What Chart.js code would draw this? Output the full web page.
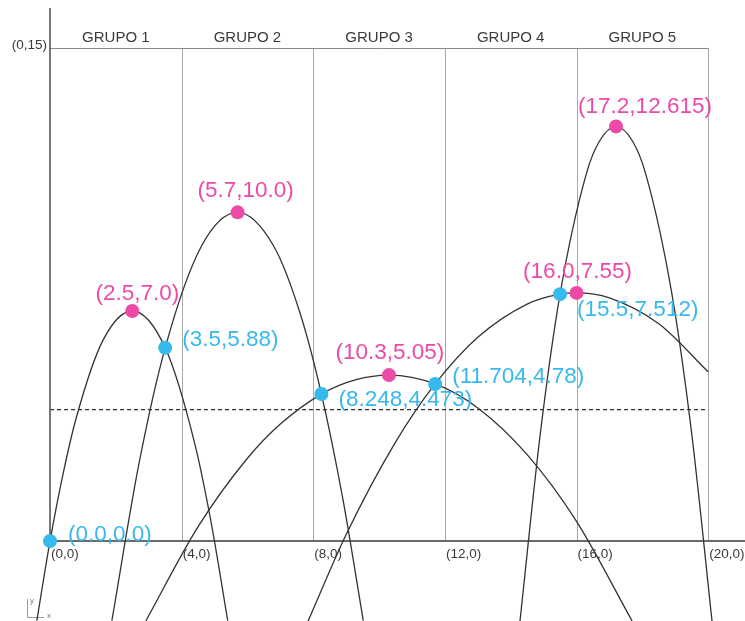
<!DOCTYPE html>
<html lang="es">
<head>
  <meta charset="UTF-8" />
  <title>Grupos</title>
  <script src="https://cdn.jsdelivr.net/npm/chart.js"></script>
  <style>
    * { margin: 0; padding: 0; box-sizing: border-box; }
    body { background: #fff; width: 745px; height: 621px; overflow: hidden; }
    #wrap { width: 745px; height: 621px; position: relative; }
  </style>
</head>
<body>
  <div id="wrap"><canvas id="groupChart"></canvas></div>

  <script>
    // frame: group headers, grid and axis ticks
    const groupLabels = ['GRUPO 1', 'GRUPO 2', 'GRUPO 3', 'GRUPO 4', 'GRUPO 5'];
    const groupCenters = [2, 6, 10, 14, 18];
    const gridXs = [4, 8, 12, 16, 20];
    const tickXs = [0, 4, 8, 12, 16, 20];
    const tickLabels = ['(0,0)', '(4,0)', '(8,0)', '(12,0)', '(16,0)', '(20,0)'];
    const topY = 15;
    const topLabel = '(0,15)';
    const refY = 4;

    // curves, points
    const arc1X = [-0.4, 0, 0.4, 0.8, 1.6, 2.5, 3.5, 4.4, 4.9, 5.4];
    const arc1Y = [-2.42, 0, 2.06, 3.76, 6.09, 7.0, 5.88, 2.96, 0.55, -2.42];
    const arc2X = [1.88, 2.7, 3.5, 4.6, 5.7, 6.8, 7.6, 8.248, 8.9, 9.52];
    const arc2Y = [-2.42, 2.34, 5.88, 8.97, 10.0, 8.97, 6.93, 4.473, 1.28, -2.42];
    const arc3X = [2.91, 4.5, 6, 7, 8.248, 9.3, 10.3, 11.704, 13, 14.5, 16, 17.69];
    const arc3Y = [-2.43, 0.44, 2.52, 3.56, 4.473, 4.91, 5.05, 4.78, 4.05, 2.63, 0.6, -2.43];
    const arc4X = [7.84, 9, 10.5, 11.704, 13, 14.5, 15.5, 16, 17, 18.5, 20];
    const arc4Y = [-2.44, 0.2, 3.01, 4.78, 6.2, 7.21, 7.512, 7.55, 7.4, 6.61, 5.15];
    const arc5X = [14.28, 14.9, 15.5, 16.3, 16.7, 17.2, 17.7, 18.1, 18.9, 19.5, 20.12];
    const arc5Y = [-2.45, 3.27, 7.512, 11.18, 12.17, 12.615, 12.17, 11.18, 7.51, 3.27, -2.45];

    const peakX = [2.5, 5.7, 10.3, 16.0, 17.2];
    const peakY = [7.0, 10.0, 5.05, 7.55, 12.615];
    const peakLabels = ['(2.5,7.0)', '(5.7,10.0)', '(10.3,5.05)', '(16.0,7.55)', '(17.2,12.615)'];
    const crossX = [0, 3.5, 8.248, 11.704, 15.5];
    const crossY = [0, 5.88, 4.473, 4.78, 7.512];
    const crossLabels = ['(0.0,0.0)', '(3.5,5.88)', '(8.248,4.473)', '(11.704,4.78)', '(15.5,7.512)'];

    const PINK = '#ec4aa6';
    const BLUE = '#36b9ec';
    const INK = '#333';
    const LABEL_FONT = '22.5px "Liberation Sans", Arial, sans-serif';
    // label offsets in px from their dot
    const peakOffsets = [[5, -17], [8, -22], [1, -22], [1, -21], [29, -20]];
    const crossOffsets = [[18, -6], [17, -8], [17, 6], [17, -7], [17, 16]];

    const toPoints = (xs, ys) => xs.map((x, i) => ({ x: x, y: ys[i] }));

    function curve(xs, ys) {
      return {
        data: toPoints(xs, ys),
        showLine: true,
        borderColor: INK,
        borderWidth: 1.3,
        pointRadius: 0,
        cubicInterpolationMode: 'monotone',
        order: 2
      };
    }

    function dots(xs, ys, color) {
      return {
        data: toPoints(xs, ys),
        showLine: false,
        pointRadius: 7,
        pointBorderWidth: 0,
        pointBackgroundColor: color,
        order: 0
      };
    }

    const framePlugin = {
      id: 'frame',
      beforeDatasetsDraw(chart) {
        const { ctx, scales: { x, y } } = chart;
        const px = v => x.getPixelForValue(v);
        const py = v => y.getPixelForValue(v);
        ctx.save();

        // grid verticals
        ctx.strokeStyle = '#a8a8a8';
        ctx.lineWidth = 1;
        gridXs.forEach(g => {
          ctx.beginPath();
          ctx.moveTo(Math.round(px(g)) + 0.5, py(0));
          ctx.lineTo(Math.round(px(g)) + 0.5, py(topY));
          ctx.stroke();
        });

        // top line
        ctx.strokeStyle = '#8a8a8a';
        ctx.beginPath();
        ctx.moveTo(px(0), Math.round(py(topY)) + 0.5);
        ctx.lineTo(px(20), Math.round(py(topY)) + 0.5);
        ctx.stroke();

        // dashed reference line
        ctx.strokeStyle = '#333';
        ctx.lineWidth = 1.2;
        ctx.setLineDash([4, 3]);
        ctx.beginPath();
        ctx.moveTo(px(0), py(refY));
        ctx.lineTo(px(20), py(refY));
        ctx.stroke();
        ctx.setLineDash([]);

        // axes
        ctx.strokeStyle = '#6a6a6a';
        ctx.lineWidth = 2;
        ctx.beginPath();
        ctx.moveTo(px(0), py(0));
        ctx.lineTo(chart.chartArea.right, py(0));
        ctx.stroke();
        ctx.strokeStyle = '#555';
        ctx.lineWidth = 1.6;
        ctx.beginPath();
        ctx.moveTo(px(0), py(0));
        ctx.lineTo(px(0), chart.chartArea.top + 8);
        ctx.stroke();

        // texts
        ctx.fillStyle = '#3a3a3a';
        ctx.font = '15px "Liberation Sans", Arial, sans-serif';
        ctx.textAlign = 'center';
        ctx.textBaseline = 'middle';
        groupLabels.forEach((g, i) => ctx.fillText(g, px(groupCenters[i]), py(topY) - 10));
        ctx.font = '13.5px "Liberation Sans", Arial, sans-serif';
        ctx.textAlign = 'right';
        ctx.fillText(topLabel, px(0) - 3, py(topY) - 3);
        ctx.textAlign = 'left';
        tickXs.forEach((t, i) => ctx.fillText(tickLabels[i], px(t) + 1, py(0) + 13));

        // small axis marker, bottom left
        ctx.strokeStyle = '#999';
        ctx.lineWidth = 1;
        const bx = 27, by = chart.chartArea.bottom - 4;
        ctx.beginPath();
        ctx.moveTo(bx + 0.5, by - 18);
        ctx.lineTo(bx + 0.5, by + 0.5);
        ctx.lineTo(bx + 17, by + 0.5);
        ctx.stroke();
        ctx.fillStyle = '#777';
        ctx.font = '8px "Liberation Sans", Arial, sans-serif';
        ctx.fillText('y', bx + 3, by - 16);
        ctx.fillText('x', bx + 20, by - 1);
        ctx.restore();
      },
      afterDatasetsDraw(chart) {
        const { ctx, scales: { x, y } } = chart;
        ctx.save();
        ctx.font = LABEL_FONT;
        ctx.textBaseline = 'middle';
        ctx.fillStyle = PINK;
        ctx.textAlign = 'center';
        peakLabels.forEach((t, i) => {
          ctx.fillText(t, x.getPixelForValue(peakX[i]) + peakOffsets[i][0],
            y.getPixelForValue(peakY[i]) + peakOffsets[i][1]);
        });
        ctx.fillStyle = BLUE;
        ctx.textAlign = 'left';
        crossLabels.forEach((t, i) => {
          ctx.fillText(t, x.getPixelForValue(crossX[i]) + crossOffsets[i][0],
            y.getPixelForValue(crossY[i]) + crossOffsets[i][1]);
        });
        ctx.restore();
      }
    };

    new Chart(document.getElementById('groupChart'), {
      type: 'scatter',
      data: {
        datasets: [
          dots(peakX, peakY, PINK),
          dots(crossX, crossY, BLUE),
          curve(arc1X, arc1Y),
          curve(arc2X, arc2Y),
          curve(arc3X, arc3Y),
          curve(arc4X, arc4Y),
          curve(arc5X, arc5Y)
        ]
      },
      options: {
        responsive: true,
        maintainAspectRatio: false,
        animation: false,
        layout: { padding: 0, autoPadding: false },
        plugins: { legend: { display: false }, tooltip: { enabled: false } },
        scales: {
          x: { type: 'linear', min: -1.52, max: 21.12, display: false },
          y: { type: 'linear', min: -2.43, max: 16.46, display: false }
        }
      },
      plugins: [framePlugin]
    });
  </script>
</body>
</html>
